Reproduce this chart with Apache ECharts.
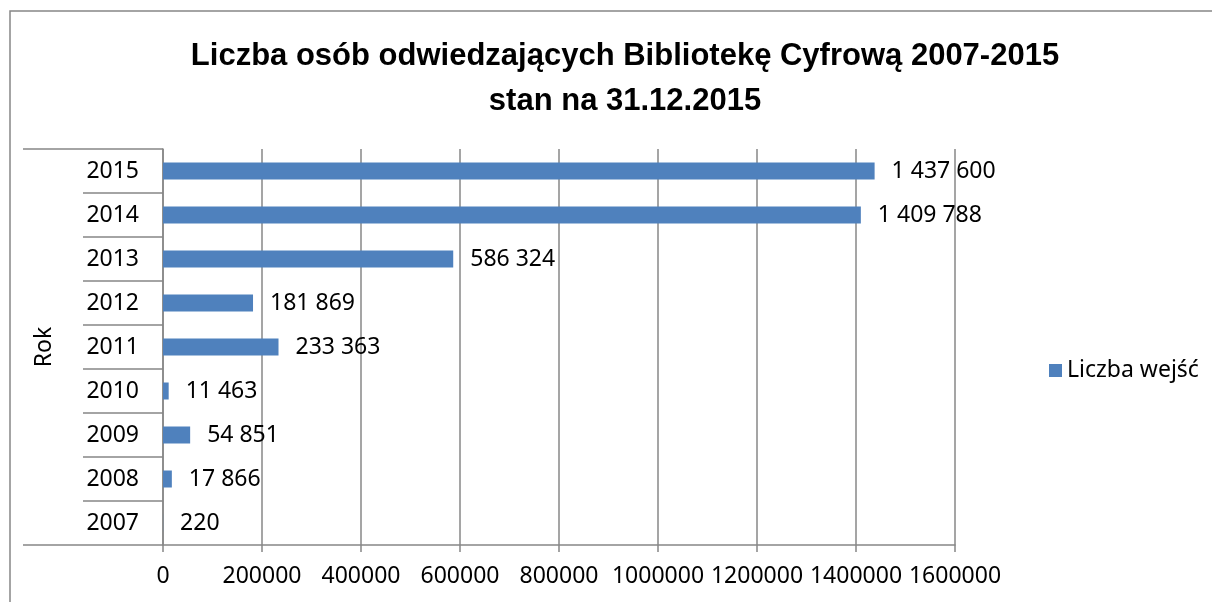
<!DOCTYPE html>
<html>
<head>
<meta charset="utf-8">
<script src="https://cdn.jsdelivr.net/npm/echarts@6/dist/echarts.min.js"></script>
<style>
  html, body { margin: 0; padding: 0; background: #ffffff; }
  #chart { width: 1212px; height: 602px; }
</style>
</head>
<body>
<div id="chart"></div>
<script>
// Years shown on the category axis (bottom to top)
const years = ['2007', '2008', '2009', '2010', '2011', '2012', '2013', '2014', '2015'];
// Visitors per year
const visits = [220, 17866, 54851, 11463, 233363, 181869, 586324, 1409788, 1437600];
const seriesName = 'Liczba wejść';
const titleText = 'Liczba osób odwiedzających Bibliotekę Cyfrową 2007-2015\nstan na 31.12.2015';
const axisName = 'Rok';

const LINE = '#878787';
const FONT = 'Noto Sans';
const FS = 23;

// thousands separated with spaces: 1437600 -> "1 437 600"
function spaced(v) {
  return String(v).replace(/\B(?=(\d{3})+(?!\d))/g, ' ');
}

const chart = echarts.init(document.getElementById('chart'), null, { renderer: 'canvas' });

chart.setOption({
  backgroundColor: '#ffffff',
  animation: false,
  title: {
    text: titleText,
    left: 620,
    top: 29,
    textAlign: 'center',
    textStyle: {
      fontFamily: 'Liberation Sans',
      fontWeight: 'bold',
      fontSize: 31,
      lineHeight: 45,
      color: '#000000'
    }
  },
  legend: {
    left: 1044,
    top: 354,
    itemWidth: 13,
    itemHeight: 13,
    itemGap: 8,
    icon: 'rect',
    textStyle: { fontFamily: FONT, fontSize: FS, color: '#000000' },
    data: [seriesName]
  },
  grid: { left: 163, right: 257, top: 149, bottom: 57, containLabel: false },
  xAxis: {
    type: 'value',
    min: 0,
    max: 1600000,
    interval: 200000,
    axisLine: { show: true, lineStyle: { color: LINE, width: 1.5 } },
    axisTick: { show: true, length: 7, lineStyle: { color: LINE, width: 1.5 } },
    splitLine: { show: true, lineStyle: { color: LINE, width: 1.5 } },
    axisLabel: {
      margin: 20,
      fontFamily: FONT,
      fontSize: FS,
      color: '#000000',
      hideOverlap: false,
      showMinLabel: true,
      showMaxLabel: true,
      formatter: v => String(v)
    }
  },
  yAxis: [
    {
      type: 'category',
      data: years,
      position: 'left',
      boundaryGap: true,
      name: axisName,
      nameLocation: 'middle',
      nameGap: 107,
      nameRotate: 90,
      nameTextStyle: { fontFamily: FONT, fontSize: FS, color: '#000000' },
      axisLine: { show: true, lineStyle: { color: LINE, width: 1.5 } },
      axisTick: { show: true, length: 80, inside: false, lineStyle: { color: LINE, width: 1.5 } },
      axisLabel: { margin: 24, fontFamily: FONT, fontSize: FS, color: '#000000' },
      splitLine: { show: false }
    },
    {
      // outer frame lines of the year table (top and bottom)
      type: 'category',
      data: [''],
      position: 'left',
      offset: 0,
      boundaryGap: true,
      axisLine: { show: false },
      axisTick: { show: true, length: 140, lineStyle: { color: LINE, width: 1.5 } },
      axisLabel: { show: false },
      splitLine: { show: false }
    }
  ],
  series: [
    {
      name: seriesName,
      type: 'bar',
      yAxisIndex: 0,
      data: visits,
      barWidth: 17,
      itemStyle: { color: '#4F81BD' },
      label: {
        show: true,
        position: 'right',
        distance: 17,
        fontFamily: FONT,
        fontSize: FS,
        color: '#000000',
        formatter: p => spaced(p.value)
      }
    }
  ],
  graphic: [
    {
      type: 'rect',
      silent: true,
      shape: { x: 10, y: 11, width: 1240, height: 640 },
      style: { fill: 'none', stroke: LINE, lineWidth: 1.5 }
    }
  ]
});
</script>
</body>
</html>
